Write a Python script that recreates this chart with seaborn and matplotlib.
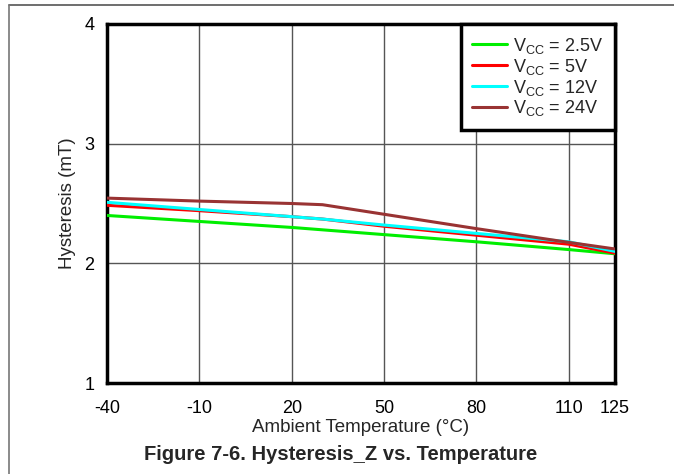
"""
Hysteresis_Z vs. temperature for several supply voltages
"""

import pandas as pd
import numpy as np
import matplotlib
matplotlib.use('Agg')
import matplotlib.pyplot as plt
from matplotlib.lines import Line2D
import seaborn as sns

# Data
temps = [-40, -10, 20, 30, 50, 80, 110, 125]
hyst_2v5 = [2.40, 2.35, 2.30, 2.28, 2.24, 2.18, 2.115, 2.08]
hyst_5v = [2.485, 2.44, 2.39, 2.37, 2.31, 2.235, 2.16, 2.085]
hyst_12v = [2.51, 2.45, 2.39, 2.37, 2.32, 2.25, 2.18, 2.10]
hyst_24v = [2.545, 2.52, 2.50, 2.49, 2.41, 2.29, 2.175, 2.12]

series_names = ["$\\mathregular{V_{CC}}$ = 2.5V", "$\\mathregular{V_{CC}}$ = 5V",
                "$\\mathregular{V_{CC}}$ = 12V", "$\\mathregular{V_{CC}}$ = 24V"]
series_colors = ["#00ee00", "#ff0000", "#00ffff", "#993333"]
x_ticks = [-40, -10, 20, 50, 80, 110, 125]
x_tick_labels = ["-40", "-10", "20", "50", "80", "110", "125"]
y_ticks = [1, 2, 3, 4]

df = pd.DataFrame({
    "temp": temps * 4,
    "hyst": hyst_2v5 + hyst_5v + hyst_12v + hyst_24v,
    "vcc": np.repeat(series_names, len(temps)),
})

sns.set_style("white")
plt.rcParams['font.family'] = ['Liberation Sans', 'DejaVu Sans']
plt.rcParams['mathtext.fontset'] = 'custom'
plt.rcParams['mathtext.rm'] = 'Liberation Sans'
plt.rcParams['axes.unicode_minus'] = False

fig = plt.figure(figsize=(6.74, 4.74), dpi=100)
ax = fig.add_axes([107 / 674, 1 - 383 / 474, 508 / 674, 359 / 474])

sns.lineplot(data=df, x="temp", y="hyst", hue="vcc", palette=series_colors,
             hue_order=series_names, linewidth=2.2, ax=ax, zorder=3)

ax.set_xlim(-40, 125)
ax.set_ylim(1, 4)
ax.set_xticks(x_ticks)
ax.set_xticklabels(x_tick_labels)
ax.set_yticks(y_ticks)
ax.tick_params(axis='both', labelsize=13, length=0, colors='black')
ax.tick_params(axis='x', pad=12)
ax.tick_params(axis='y', pad=9)
ax.grid(True, color='#555555', linewidth=1.0)
for sp in ax.spines.values():
    sp.set_visible(True)
    sp.set_color('black')
    sp.set_linewidth(2.5)

ax.set_xlabel("Ambient Temperature (°C)", fontsize=13.5, labelpad=2)
ax.set_ylabel("Hysteresis (mT)", fontsize=13.5, labelpad=6)

leg = ax.legend(loc='upper right', fontsize=13, frameon=True, fancybox=False,
                borderaxespad=0, handlelength=1.9, labelspacing=0.05,
                borderpad=0.65, handletextpad=0.35)
leg.get_frame().set_edgecolor('black')
leg.get_frame().set_linewidth(2.5)
leg.get_frame().set_alpha(1)
leg.set_zorder(5)

fig.text(0.505, 1 - 455 / 474, "Figure 7-6. Hysteresis_Z vs. Temperature",
         ha='center', va='center', fontsize=14.5, fontweight='bold')

# page frame lines
fig.add_artist(Line2D([9 / 674, 1], [1 - 5 / 474, 1 - 5 / 474], color='#555555', linewidth=1.2))
fig.add_artist(Line2D([9 / 674, 9 / 674], [0, 1 - 5 / 474], color='#777777', linewidth=1.2))

plt.savefig("out.png", dpi=100)
